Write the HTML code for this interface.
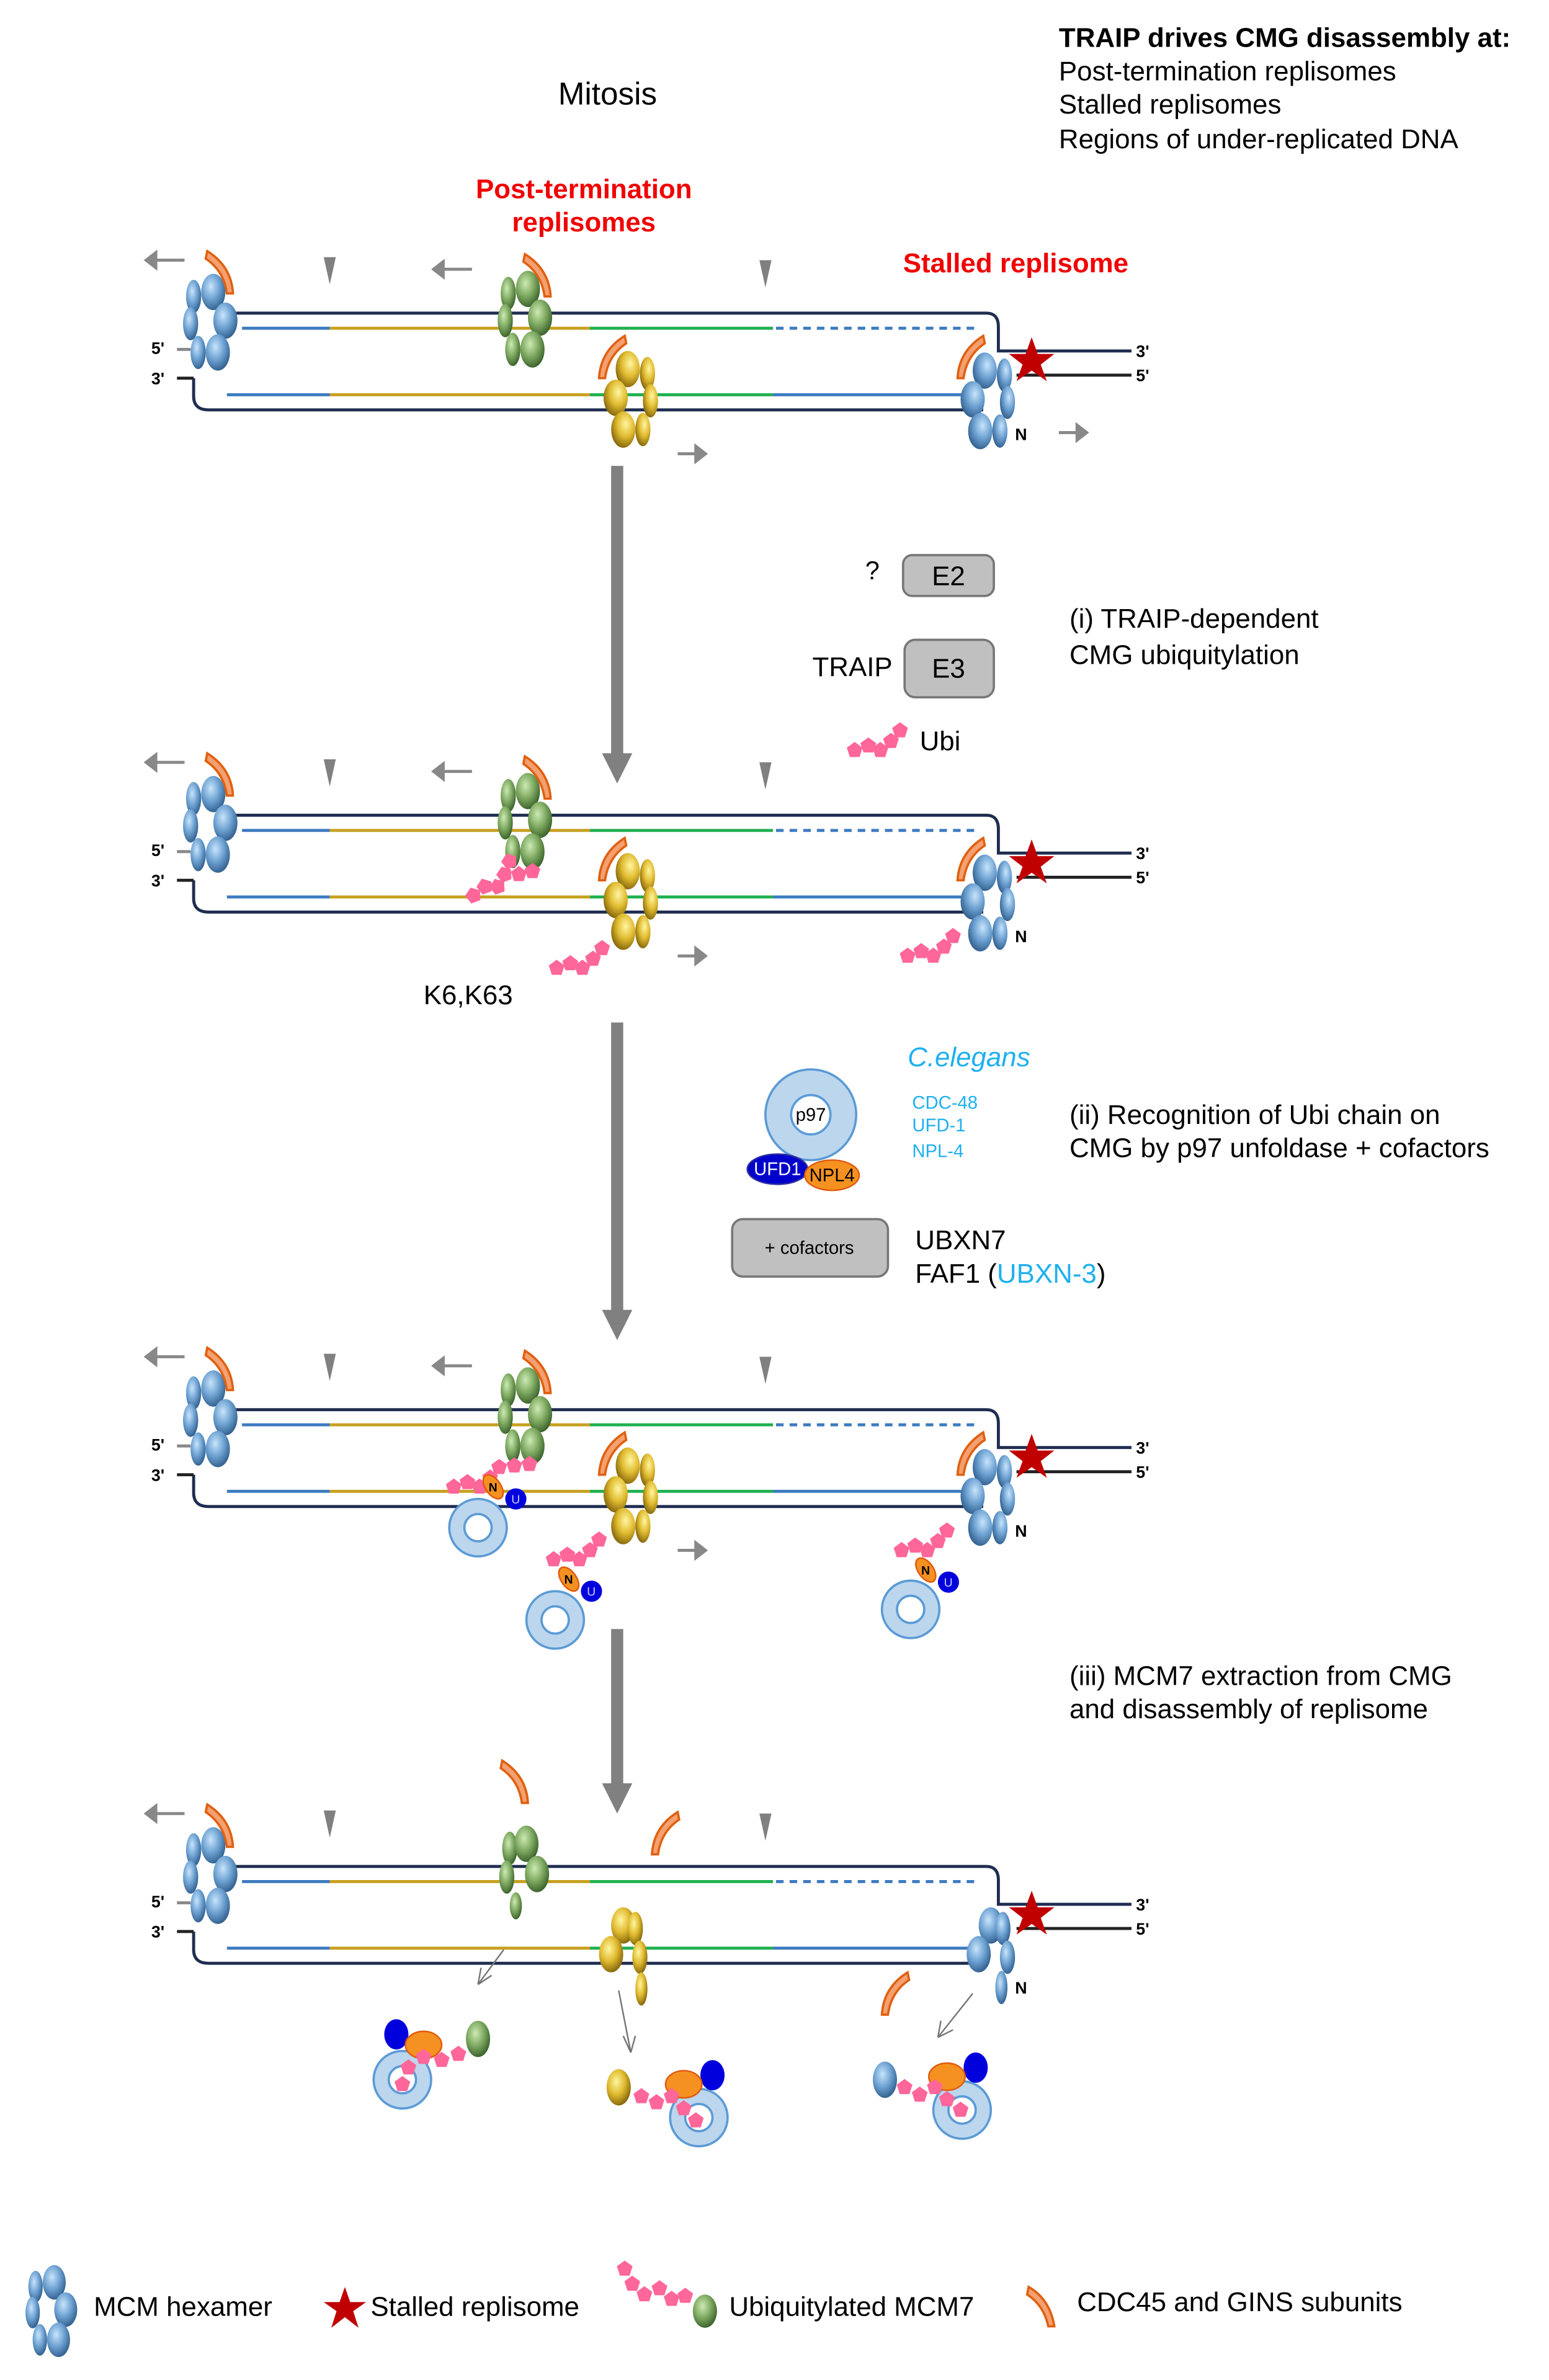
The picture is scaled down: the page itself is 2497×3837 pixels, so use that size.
<!DOCTYPE html>
<html><head><meta charset="utf-8"><style>
html,body{margin:0;padding:0;background:#fff;}
svg{display:block;}
text{font-family:"Liberation Sans",Arial,sans-serif;}
</style></head><body>
<svg xmlns="http://www.w3.org/2000/svg" width="2497" height="3837" viewBox="0 0 1024 1573.5">
<defs>
<radialGradient id="gb" cx="0.4" cy="0.35" r="0.7"><stop offset="0" stop-color="#c8e4fb"/><stop offset="0.5" stop-color="#6fa3d3"/><stop offset="1" stop-color="#2c5a88"/></radialGradient>
<radialGradient id="gg" cx="0.4" cy="0.35" r="0.7"><stop offset="0" stop-color="#cdeab4"/><stop offset="0.5" stop-color="#7faa62"/><stop offset="1" stop-color="#355b26"/></radialGradient>
<radialGradient id="gy" cx="0.4" cy="0.35" r="0.7"><stop offset="0" stop-color="#fff6a0"/><stop offset="0.5" stop-color="#e0bb30"/><stop offset="1" stop-color="#7d5f08"/></radialGradient>
<g id="hexL">
<ellipse cx="-10" cy="-16" rx="5" ry="11"/>
<ellipse cx="-12" cy="2" rx="5" ry="11"/>
<ellipse cx="-7" cy="21" rx="5" ry="11"/>
<ellipse cx="3" cy="-19" rx="8" ry="12"/>
<ellipse cx="11" cy="0" rx="8" ry="12"/>
<ellipse cx="6" cy="21" rx="8" ry="12"/>
</g>
<path id="arc" d="M-8,-14 Q8,-4 9,14 L5,14 Q3,-1 -9,-9 Z" fill="#f4a070" stroke="#e06010" stroke-width="1.5"/>
<path id="pent" d="M0,-5.5 L5.2,-1.7 L3.2,4.5 L-3.2,4.5 L-5.2,-1.7Z" fill="#ff6699"/>
<g id="chain"><use href="#pent" x="0" y="0"/><use href="#pent" x="9" y="-3"/><use href="#pent" x="17" y="0"/><use href="#pent" x="24" y="-6"/><use href="#pent" x="30" y="-13"/></g>
<g id="dna">
<path d="M150,207 H652 Q660,207 660,216 V232 H748" fill="none" stroke="#1f2d50" stroke-width="2"/>
<path d="M672,248 H748" stroke="#222" stroke-width="2"/>
<path d="M128,250 V262 Q128,271 138,271 H650" fill="none" stroke="#1f2d50" stroke-width="2"/>
<path d="M117,250 H128" stroke="#222" stroke-width="2"/>
<path d="M117,231 H126" stroke="#888" stroke-width="2"/>
<path d="M160,217 H218" stroke="#3d7bc0" stroke-width="2"/>
<path d="M218,217 H390" stroke="#c8a020" stroke-width="2"/>
<path d="M390,217 H511" stroke="#20b050" stroke-width="2"/>
<path d="M513,217 H647" stroke="#3d7bc0" stroke-width="2" stroke-dasharray="5,4"/>
<path d="M150,261 H218" stroke="#3d7bc0" stroke-width="2"/>
<path d="M218,261 H390" stroke="#c8a020" stroke-width="2"/>
<path d="M390,261 H511" stroke="#20b050" stroke-width="2"/>
<path d="M511,261 H645" stroke="#3d7bc0" stroke-width="2"/>
<text x="100" y="234" font-size="11" font-weight="bold">5'</text>
<text x="100" y="254" font-size="11" font-weight="bold">3'</text>
<text x="751" y="236" font-size="11" font-weight="bold">3'</text>
<text x="751" y="252" font-size="11" font-weight="bold">5'</text>
<polygon points="682,223 686,234 697,234 688,241 692,252 682,245 672,252 676,241 667,234 678,234" fill="#c00000"/>
<polygon points="214,170 222,170 218,188" fill="#808080"/>
<polygon points="502,172 510,172 506,190" fill="#808080"/>
</g>
<g id="larr"><path d="M0,0 H-20" stroke="#888" stroke-width="2"/><polygon points="-27,0 -18,-7 -18,7" fill="#888"/></g>
<g id="rarr"><path d="M0,0 H12" stroke="#888" stroke-width="2"/><polygon points="20,0 11,-7 11,7" fill="#888"/></g>
<g id="p97s"><circle r="19" fill="#bcd6ee" stroke="#5b9bd5" stroke-width="1.5"/><circle r="9" fill="#fff" stroke="#5b9bd5" stroke-width="1.5"/></g>
<g id="nu"><ellipse cx="0" cy="0" rx="5" ry="9" transform="rotate(-35)" fill="#f59120" stroke="#e05a10"/><text x="-3" y="3" font-size="8" font-weight="bold">N</text><circle cx="15" cy="8" r="7" fill="#0000dd"/><text x="12" y="11" font-size="8" fill="#ccf">U</text></g>
</defs>

<!-- header text -->
<text x="700" y="31" font-size="18" font-weight="bold">TRAIP drives CMG disassembly at:</text>
<text x="700" y="53" font-size="18">Post-termination replisomes</text>
<text x="700" y="75" font-size="18">Stalled replisomes</text>
<text x="700" y="98" font-size="18">Regions of under-replicated DNA</text>
<text x="369" y="69" font-size="21">Mitosis</text>
<text x="386" y="131" font-size="18" font-weight="bold" fill="#f00000" text-anchor="middle">Post-termination</text>
<text x="386" y="153" font-size="18" font-weight="bold" fill="#f00000" text-anchor="middle">replisomes</text>
<text x="597" y="180" font-size="18" font-weight="bold" fill="#f00000">Stalled replisome</text>

<!-- Panel 1 -->
<g>
<use href="#dna"/>
<use href="#hexL" x="138" y="212" fill="url(#gb)"/>
<use href="#hexL" x="346" y="210" fill="url(#gg)"/>
<g transform="translate(418,263) scale(-1,1)"><use href="#hexL" fill="url(#gy)"/></g>
<g transform="translate(654,264) scale(-1,1)"><use href="#hexL" fill="url(#gb)"/></g>
<use href="#arc" x="145" y="180"/><use href="#arc" x="355" y="182"/>
<g transform="translate(405,236) scale(-1,1)"><use href="#arc"/></g>
<g transform="translate(642,236) scale(-1,1)"><use href="#arc"/></g>
<text x="671" y="291" font-size="11" font-weight="bold">N</text>
<use href="#larr" x="122" y="172"/><use href="#larr" x="312" y="178"/>
<use href="#rarr" x="448" y="300"/><use href="#rarr" x="700" y="286"/>
</g>
<g transform="translate(408,308)"><rect x="-4" y="0" width="8" height="192" fill="#808080"/><polygon points="-10,190 10,190 0,210" fill="#808080"/></g>

<!-- middle step i -->
<text x="572" y="383" font-size="17">?</text>
<rect x="597" y="367" width="60" height="27" rx="6" fill="#c0c0c0" stroke="#777" stroke-width="1.5"/>
<text x="627" y="387" font-size="18" text-anchor="middle">E2</text>
<text x="537" y="447" font-size="18">TRAIP</text>
<rect x="598" y="423" width="59" height="38" rx="7" fill="#c0c0c0" stroke="#777" stroke-width="1.5"/>
<text x="627" y="448" font-size="18" text-anchor="middle">E3</text>
<use href="#chain" x="565" y="496"/>
<text x="608" y="496" font-size="18">Ubi</text>
<text x="707" y="415" font-size="18">(i) TRAIP-dependent</text>
<text x="707" y="439" font-size="18">CMG ubiquitylation</text>

<!-- Panel 2 -->
<g transform="translate(0,332)">
<use href="#dna"/>
<use href="#hexL" x="138" y="212" fill="url(#gb)"/>
<use href="#hexL" x="346" y="210" fill="url(#gg)"/>
<g transform="translate(418,263) scale(-1,1)"><use href="#hexL" fill="url(#gy)"/></g>
<g transform="translate(654,264) scale(-1,1)"><use href="#hexL" fill="url(#gb)"/></g>
<use href="#arc" x="145" y="180"/><use href="#arc" x="355" y="182"/>
<g transform="translate(405,236) scale(-1,1)"><use href="#arc"/></g>
<g transform="translate(642,236) scale(-1,1)"><use href="#arc"/></g>
<text x="671" y="291" font-size="11" font-weight="bold">N</text>
<use href="#larr" x="122" y="172"/><use href="#larr" x="312" y="178"/>
<use href="#rarr" x="448" y="300"/>
<g transform="translate(313,260) rotate(-20)"><use href="#chain"/></g>
<use href="#pent" x="343" y="246"/><use href="#pent" x="352" y="244"/>
<use href="#chain" x="368" y="308"/>
<use href="#chain" x="600" y="300"/>
</g>
<text x="280" y="664" font-size="18">K6,K63</text>
<g transform="translate(408,676)"><rect x="-4" y="0" width="8" height="192" fill="#808080"/><polygon points="-10,190 10,190 0,210" fill="#808080"/></g>

<!-- middle step ii -->
<circle cx="536" cy="737" r="30" fill="#bcd6ee" stroke="#5b9bd5" stroke-width="1.5"/>
<circle cx="536" cy="737" r="13" fill="#fff" stroke="#5b9bd5" stroke-width="1.5"/>
<text x="536" y="741" font-size="12" text-anchor="middle">p97</text>
<ellipse cx="514" cy="773" rx="20" ry="10" fill="#0000cc" stroke="#3030a0"/>
<text x="514" y="777" font-size="12" fill="#fff" text-anchor="middle">UFD1</text>
<ellipse cx="550" cy="777" rx="18" ry="10" fill="#f59120" stroke="#e05a10"/>
<text x="550" y="781" font-size="12" text-anchor="middle">NPL4</text>
<text x="600" y="705" font-size="18" font-style="italic" fill="#1eb0f0">C.elegans</text>
<text x="603" y="733" font-size="12" fill="#1eb0f0">CDC-48</text>
<text x="603" y="748" font-size="12" fill="#1eb0f0">UFD-1</text>
<text x="603" y="765" font-size="12" fill="#1eb0f0">NPL-4</text>
<text x="707" y="743" font-size="18">(ii) Recognition of Ubi chain on</text>
<text x="707" y="765" font-size="18">CMG by p97 unfoldase + cofactors</text>
<rect x="484" y="806" width="103" height="38" rx="7" fill="#c0c0c0" stroke="#777" stroke-width="1.5"/>
<text x="535" y="829" font-size="12" text-anchor="middle">+ cofactors</text>
<text x="605" y="826" font-size="18">UBXN7</text>
<text x="605" y="848" font-size="18">FAF1 (<tspan fill="#1eb0f0">UBXN-3</tspan>)</text>

<!-- Panel 3 -->
<g transform="translate(0,725)">
<use href="#dna"/>
<use href="#hexL" x="138" y="212" fill="url(#gb)"/>
<use href="#hexL" x="346" y="210" fill="url(#gg)"/>
<g transform="translate(418,263) scale(-1,1)"><use href="#hexL" fill="url(#gy)"/></g>
<g transform="translate(654,264) scale(-1,1)"><use href="#hexL" fill="url(#gb)"/></g>
<use href="#arc" x="145" y="180"/><use href="#arc" x="355" y="182"/>
<g transform="translate(405,236) scale(-1,1)"><use href="#arc"/></g>
<g transform="translate(642,236) scale(-1,1)"><use href="#arc"/></g>
<text x="671" y="291" font-size="11" font-weight="bold">N</text>
<use href="#larr" x="122" y="172"/><use href="#larr" x="312" y="178"/>
<use href="#rarr" x="448" y="300"/>
<use href="#chain" x="300" y="258"/><use href="#pent" x="340" y="244"/><use href="#pent" x="350" y="243"/>
<use href="#p97s" x="316" y="285"/><use href="#nu" x="326" y="258"/>
<use href="#chain" x="366" y="306"/>
<use href="#p97s" x="367" y="346"/><use href="#nu" x="376" y="319"/>
<use href="#chain" x="596" y="300"/>
<use href="#p97s" x="602" y="339"/><use href="#nu" x="612" y="313"/>
</g>
<g transform="translate(408,1077)"><rect x="-4" y="0" width="8" height="106" fill="#808080"/><polygon points="-10,102 10,102 0,122" fill="#808080"/></g>
<text x="707" y="1114" font-size="18">(iii) MCM7 extraction from CMG</text>
<text x="707" y="1136" font-size="18">and disassembly of replisome</text>

<!-- Panel 4 -->
<g transform="translate(0,1027)">
<use href="#dna"/>
<use href="#hexL" x="138" y="212" fill="url(#gb)"/>
<g fill="url(#gg)"><ellipse cx="337" cy="195" rx="5" ry="11"/><ellipse cx="335" cy="214" rx="5" ry="11"/><ellipse cx="348" cy="192" rx="8" ry="12"/><ellipse cx="355" cy="212" rx="8" ry="12"/><ellipse cx="341" cy="233" rx="4" ry="9"/></g>
<g fill="url(#gy)"><ellipse cx="412" cy="246" rx="8" ry="12"/><ellipse cx="404" cy="265" rx="8" ry="12"/><ellipse cx="420" cy="248" rx="5" ry="11"/><ellipse cx="423" cy="267" rx="5" ry="11"/><ellipse cx="424" cy="288" rx="4" ry="11"/></g>
<g fill="url(#gb)"><ellipse cx="655" cy="246" rx="8" ry="12"/><ellipse cx="647" cy="265" rx="8" ry="12"/><ellipse cx="663" cy="248" rx="5" ry="11"/><ellipse cx="666" cy="267" rx="5" ry="11"/><ellipse cx="662" cy="287" rx="4" ry="11"/></g>
<use href="#arc" x="145" y="180"/>
<text x="671" y="291" font-size="11" font-weight="bold">N</text>
<use href="#larr" x="122" y="172"/>
</g>
<use href="#arc" x="340" y="1178"/>
<g transform="translate(440,1212) scale(-1,1)"><use href="#arc"/></g>
<g transform="translate(592,1318) scale(-1,1)"><use href="#arc"/></g>
<g stroke="#777" stroke-width="1" fill="none">
<path d="M333,1289 L316,1312 M316,1312 L318,1301 M316,1312 L325,1306"/>
<path d="M409,1316 L417,1357 M417,1357 L412,1346 M417,1357 L420,1346"/>
<path d="M643,1318 L620,1347 M620,1347 L622,1336 M620,1347 L630,1342"/>
</g>
<g>
<use href="#p97s" x="266" y="1375"/>
<ellipse cx="262" cy="1345" rx="8" ry="10" fill="#0000dd"/>
<ellipse cx="280" cy="1352" rx="12" ry="9" fill="#f59120" stroke="#e05a10"/>
<ellipse cx="316" cy="1348" rx="8" ry="12" fill="url(#gg)"/>
<use href="#pent" x="266" y="1378"/><use href="#pent" x="270" y="1367"/><use href="#pent" x="280" y="1360"/><use href="#pent" x="292" y="1362"/><use href="#pent" x="303" y="1358"/>
</g>
<g>
<use href="#p97s" x="462" y="1400"/>
<ellipse cx="471" cy="1372" rx="8" ry="10" fill="#0000dd"/>
<ellipse cx="452" cy="1378" rx="12" ry="9" fill="#f59120" stroke="#e05a10"/>
<ellipse cx="409" cy="1380" rx="8" ry="12" fill="url(#gy)"/>
<use href="#pent" x="424" y="1386"/><use href="#pent" x="434" y="1390"/><use href="#pent" x="444" y="1386"/><use href="#pent" x="452" y="1394"/><use href="#pent" x="460" y="1402"/>
</g>
<g>
<use href="#p97s" x="636" y="1395"/>
<ellipse cx="645" cy="1367" rx="8" ry="10" fill="#0000dd"/>
<ellipse cx="626" cy="1373" rx="12" ry="9" fill="#f59120" stroke="#e05a10"/>
<ellipse cx="585" cy="1375" rx="8" ry="12" fill="url(#gb)"/>
<use href="#pent" x="598" y="1380"/><use href="#pent" x="608" y="1385"/><use href="#pent" x="618" y="1380"/><use href="#pent" x="626" y="1388"/><use href="#pent" x="635" y="1395"/>
</g>

<!-- legend -->
<g transform="translate(33,1527) scale(0.95)"><use href="#hexL" fill="url(#gb)"/></g>
<text x="62" y="1531" font-size="18">MCM hexamer</text>
<polygon points="228,1512 231.5,1522 242,1522 233.5,1528 237,1539 228,1532 219,1539 222.5,1528 214,1522 224.5,1522" fill="#c00000"/>
<text x="245" y="1531" font-size="18">Stalled replisome</text>
<use href="#pent" x="413" y="1500"/><use href="#pent" x="418" y="1510"/><use href="#pent" x="426" y="1517"/><use href="#pent" x="436" y="1513"/><use href="#pent" x="444" y="1520"/><use href="#pent" x="453" y="1518"/>
<ellipse cx="466" cy="1528" rx="8" ry="11" fill="url(#gg)"/>
<text x="482" y="1531" font-size="18">Ubiquitylated MCM7</text>
<path d="M680,1512 Q694,1520 697,1538 L693,1538 Q690,1524 679,1517 Z" fill="#f4a070" stroke="#e06010" stroke-width="1.5"/>
<text x="712" y="1528" font-size="18">CDC45 and GINS subunits</text>
</svg>
</body></html>
